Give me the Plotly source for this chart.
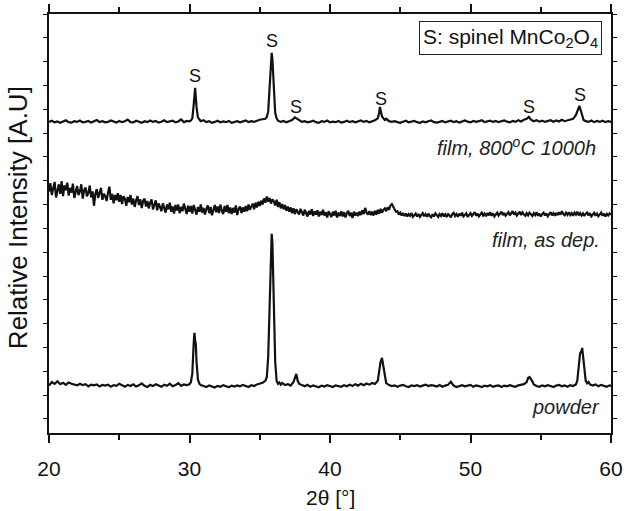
import plotly.graph_objects as go

# ---------------- data ----------------
# film, 800 C 1000h  (offset trace, top)
film800_x = [
    20.0, 20.2, 20.4, 20.6, 20.8, 21.0, 21.2, 21.4, 21.6, 21.8,
    22.0, 22.2, 22.4, 22.6, 22.8, 23.0, 23.2, 23.4, 23.6, 23.8,
    24.0, 24.2, 24.4, 24.6, 24.8, 25.0, 25.2, 25.4, 25.6, 25.8,
    26.0, 26.2, 26.4, 26.6, 26.8, 27.0, 27.2, 27.4, 27.6, 27.8,
    28.0, 28.2, 28.4, 28.6, 28.8, 29.0, 29.2, 29.4, 29.6, 29.8,
    30.0, 30.1, 30.2, 30.3, 30.4, 30.5, 30.6, 30.7, 30.8, 31.0,
    31.2, 31.4, 31.6, 31.8, 32.0, 32.2, 32.4, 32.6, 32.8, 33.0,
    33.2, 33.4, 33.6, 33.8, 34.0, 34.2, 34.4, 34.6, 34.8, 35.0, 35.2,
    35.4, 35.5, 35.6, 35.7, 35.8, 35.85, 35.9, 36.0, 36.1, 36.2,
    36.3, 36.5, 36.7, 36.9, 37.1, 37.3, 37.5, 37.6, 37.8, 38.0,
    38.2, 38.4, 38.6, 38.8, 39.0, 39.2, 39.4, 39.6, 39.8, 40.0,
    40.2, 40.4, 40.6, 40.8, 41.0, 41.2, 41.4, 41.6, 41.8, 42.0,
    42.2, 42.4, 42.6, 42.8, 43.0, 43.2,
    43.4, 43.5, 43.55, 43.6, 43.7, 43.8, 43.9, 44.0, 44.2, 44.4,
    44.6, 44.8, 45.0, 45.2, 45.4, 45.6, 45.8, 46.0, 46.2, 46.4,
    46.6, 46.8, 47.0, 47.2, 47.4, 47.6, 47.8, 48.0, 48.2, 48.4,
    48.6, 48.8, 49.0, 49.2, 49.4, 49.6, 49.8, 50.0, 50.2, 50.4,
    50.6, 50.8, 51.0, 51.2, 51.4, 51.6, 51.8, 52.0, 52.2, 52.4,
    52.6, 52.8, 53.0, 53.2, 53.4, 53.6, 53.8,
    54.0, 54.15, 54.3, 54.5, 54.7, 54.9, 55.1, 55.3, 55.5, 55.7,
    55.9, 56.1, 56.3, 56.5, 56.7, 56.9, 57.1, 57.3, 57.5, 57.65,
    57.75, 57.85, 57.95, 58.05, 58.2, 58.4, 58.6, 58.8, 59.0, 59.2,
    59.4, 59.6, 59.8, 60.0,
]
film800_y = [
    12.47, 12.52, 12.45, 12.49, 12.43, 12.50, 12.54, 12.46, 12.44, 12.50,
    12.47, 12.53, 12.45, 12.47, 12.51, 12.44, 12.48, 12.55, 12.46, 12.50,
    12.45, 12.47, 12.53, 12.48, 12.44, 12.51, 12.46, 12.50, 12.57, 12.46,
    12.45, 12.52, 12.48, 12.43, 12.50, 12.46, 12.53, 12.47, 12.51, 12.44,
    12.48, 12.54, 12.46, 12.50, 12.52, 12.45, 12.49, 12.57, 12.46, 12.51,
    12.49, 12.53, 12.62, 13.20, 13.90, 13.10, 12.65, 12.58, 12.50, 12.54,
    12.46, 12.50, 12.43, 12.47, 12.52, 12.45, 12.49, 12.46, 12.51, 12.43,
    12.47, 12.50, 12.45, 12.49, 12.53, 12.46, 12.50, 12.47, 12.52, 12.56, 12.58,
    12.60, 12.68, 12.90, 13.90, 15.20, 15.37, 15.10, 13.80, 12.85, 12.62,
    12.52, 12.47, 12.51, 12.45, 12.50, 12.55, 12.66, 12.62, 12.52, 12.47,
    12.50, 12.45, 12.48, 12.52, 12.46, 12.43, 12.50, 12.47, 12.53, 12.45,
    12.48, 12.46, 12.51, 12.44, 12.47, 12.52, 12.46, 12.50, 12.45, 12.48,
    12.53, 12.47, 12.51, 12.45, 12.48, 12.54,
    12.62, 12.85, 13.10, 12.95, 12.70, 12.62, 12.55, 12.60, 12.50, 12.47,
    12.50, 12.46, 12.43, 12.48, 12.52, 12.45, 12.47, 12.51, 12.46, 12.43,
    12.49, 12.45, 12.50, 12.53, 12.46, 12.44, 12.47, 12.51, 12.45, 12.48,
    12.52, 12.46, 12.50, 12.44, 12.47, 12.53, 12.48, 12.45, 12.51, 12.47,
    12.50, 12.54, 12.46, 12.48, 12.52, 12.47, 12.51, 12.46, 12.50, 12.53,
    12.48, 12.45, 12.51, 12.47, 12.54, 12.49, 12.56,
    12.60, 12.68, 12.56, 12.50, 12.54, 12.48, 12.52, 12.47, 12.51, 12.54,
    12.48, 12.53, 12.49, 12.56, 12.50, 12.54, 12.56, 12.60, 12.75, 13.05,
    13.14, 12.95, 12.70, 12.55, 12.50, 12.47, 12.53, 12.46, 12.51, 12.47,
    12.52, 12.46, 12.50, 12.47,
]

# film, as deposited (middle trace), scan 20..60 deg, step 0.1 deg
asdep_start = 20.0
asdep_step = 0.1
asdep_y = [
    9.55, 9.90, 9.40, 9.75, 9.95, 9.30, 9.65, 9.85, 9.45, 9.98,
    9.35, 9.80, 9.60, 9.92, 9.38, 9.70, 9.50, 9.88, 9.28, 9.62,
    9.78, 9.40, 9.55, 9.85, 9.25, 9.60, 9.72, 9.35, 9.50, 9.80,
    9.30, 9.55, 8.95, 9.45, 9.65, 9.28, 9.50, 9.70, 9.20, 9.45,
    9.35, 9.15, 9.50, 9.75, 9.20, 9.45, 9.05, 9.40, 9.18, 9.48,
    9.12, 9.40, 9.02, 9.35, 9.25, 8.95, 9.32, 9.10, 9.40, 9.00,
    9.25, 8.90, 9.18, 9.35, 8.98, 9.22, 8.85, 9.15, 9.25, 8.92,
    9.15, 8.84, 9.08, 9.22, 8.80, 9.02, 9.18, 8.76, 9.05, 8.90,
    8.72, 9.05, 8.88, 8.66, 9.00, 8.80, 9.08, 8.70, 8.92, 8.62,
    8.98, 8.75, 9.00, 8.64, 8.90, 8.72, 9.04, 8.78, 8.60, 8.95,
    8.70, 8.94, 8.62, 8.98, 8.76, 8.58, 8.90, 8.70, 9.00, 8.66,
    8.86, 8.58, 8.82, 8.96, 8.64, 8.90, 8.55, 8.84, 8.98, 8.68,
    8.92, 8.64, 9.00, 8.74, 8.60, 8.94, 8.70, 8.98, 8.64, 8.88,
    8.60, 8.86, 8.66, 8.96, 8.56, 8.82, 8.92, 8.64, 8.88, 8.70,
    8.94, 8.72, 9.00, 8.78, 8.96, 9.04, 8.80, 9.08, 8.88, 9.12,
    8.94, 9.16, 9.00, 9.26, 9.08, 9.34, 9.12, 9.28, 9.04, 9.22,
    9.14, 8.96, 9.20, 8.90, 9.10, 8.84, 9.02, 8.80, 8.98, 8.74,
    8.92, 8.70, 8.88, 8.64, 8.84, 8.60, 8.80, 8.68, 8.58, 8.82,
    8.64, 8.54, 8.78, 8.62, 8.50, 8.74, 8.58, 8.80, 8.52, 8.72,
    8.58, 8.76, 8.50, 8.70, 8.56, 8.78, 8.54, 8.68, 8.46, 8.72,
    8.56, 8.48, 8.70, 8.54, 8.74, 8.46, 8.66, 8.52, 8.72, 8.50,
    8.68, 8.46, 8.64, 8.74, 8.52, 8.66, 8.44, 8.70, 8.54, 8.66,
    8.52, 8.70, 8.56, 8.76, 8.60, 8.86, 8.66, 8.58, 8.72, 8.56,
    8.70, 8.54, 8.74, 8.58, 8.78, 8.62, 8.82, 8.66, 8.78, 8.84,
    8.72, 8.88, 8.78, 8.96, 9.02, 8.88, 8.80, 8.70, 8.72, 8.58,
    8.66, 8.54, 8.64, 8.52, 8.62, 8.50, 8.60, 8.53, 8.64, 8.48,
    8.58, 8.62, 8.50, 8.60, 8.48, 8.59, 8.64, 8.51, 8.60, 8.49,
    8.62, 8.52, 8.47, 8.59, 8.50, 8.63, 8.53, 8.48, 8.60, 8.52,
    8.64, 8.50, 8.59, 8.48, 8.62, 8.53, 8.46, 8.60, 8.65, 8.52,
    8.60, 8.49, 8.62, 8.53, 8.66, 8.50, 8.59, 8.63, 8.48, 8.58,
    8.64, 8.52, 8.61, 8.68, 8.53, 8.62, 8.50, 8.60, 8.66, 8.54,
    8.62, 8.51, 8.64, 8.55, 8.68, 8.53, 8.63, 8.50, 8.61, 8.66,
    8.54, 8.64, 8.70, 8.56, 8.65, 8.53, 8.62, 8.68, 8.55, 8.64,
    8.72, 8.58, 8.66, 8.54, 8.64, 8.70, 8.56, 8.67, 8.58, 8.53,
    8.64, 8.55, 8.66, 8.58, 8.52, 8.64, 8.56, 8.68, 8.53, 8.62,
    8.50, 8.60, 8.66, 8.54, 8.63, 8.51, 8.61, 8.68, 8.55, 8.64,
    8.53, 8.65, 8.56, 8.68, 8.58, 8.72, 8.60, 8.55, 8.66, 8.57,
    8.68, 8.56, 8.64, 8.53, 8.66, 8.58, 8.70, 8.55, 8.64, 8.54,
    8.63, 8.52, 8.62, 8.67, 8.54, 8.64, 8.50, 8.60, 8.65, 8.53,
    8.62, 8.51, 8.60, 8.66, 8.53, 8.62, 8.50, 8.61, 8.54, 8.63,
    8.57,
]

# powder (bottom trace)
powder_x = [
    20.0, 20.2, 20.4, 20.6, 20.8, 21.0, 21.2, 21.4, 21.6, 21.8,
    22.0, 22.2, 22.4, 22.6, 22.8, 23.0, 23.2, 23.4, 23.6, 23.8,
    24.0, 24.2, 24.4, 24.6, 24.8, 25.0, 25.2, 25.4, 25.6, 25.8,
    26.0, 26.2, 26.4, 26.6, 26.8, 27.0, 27.2, 27.4, 27.6, 27.8,
    28.0, 28.2, 28.4, 28.6, 28.8, 29.0, 29.2, 29.4, 29.6, 29.8,
    30.0, 30.1, 30.2, 30.3, 30.35, 30.4, 30.45, 30.5, 30.6, 30.7, 30.8, 31.0,
    31.2, 31.4, 31.6, 31.8, 32.0, 32.2, 32.4, 32.6, 32.8, 33.0,
    33.2, 33.4, 33.6, 33.8, 34.0, 34.2, 34.4, 34.6, 34.8, 35.0, 35.2,
    35.4, 35.5, 35.6, 35.7, 35.8, 35.85, 35.9, 36.0, 36.1, 36.2,
    36.3, 36.4, 36.5, 36.6, 36.8, 37.0, 37.2, 37.4, 37.5, 37.6,
    37.7, 37.8, 38.0,
    38.2, 38.4, 38.6, 38.8, 39.0, 39.2, 39.4, 39.6, 39.8, 40.0,
    40.2, 40.4, 40.6, 40.8, 41.0, 41.2, 41.4, 41.6, 41.8, 42.0,
    42.2, 42.4, 42.6, 42.8, 43.0, 43.2,
    43.4, 43.5, 43.6, 43.7, 43.8, 43.9, 44.0, 44.2, 44.4,
    44.6, 44.8, 45.0, 45.2, 45.4, 45.6, 45.8, 46.0, 46.2, 46.4,
    46.6, 46.8, 47.0, 47.2, 47.4, 47.6, 47.8, 48.0, 48.2, 48.4,
    48.6, 48.8, 49.0, 49.2, 49.4, 49.6, 49.8, 50.0, 50.2, 50.4,
    50.6, 50.8, 51.0, 51.2, 51.4, 51.6, 51.8, 52.0, 52.2, 52.4,
    52.6, 52.8, 53.0, 53.2, 53.4, 53.6, 53.8,
    54.0, 54.1, 54.2, 54.3, 54.4, 54.5, 54.7, 54.9, 55.1, 55.3,
    55.5, 55.7, 55.9, 56.1, 56.3, 56.5, 56.7, 56.9, 57.1, 57.3,
    57.5, 57.6, 57.7, 57.8, 57.9, 57.95, 58.0, 58.1, 58.2, 58.3,
    58.4, 58.5, 58.7, 58.9, 59.1, 59.3, 59.5, 59.7, 59.9, 60.0,
]
powder_y = [
    1.40, 1.55, 1.47, 1.58, 1.46, 1.52, 1.43, 1.53, 1.48, 1.45,
    1.41, 1.48, 1.42, 1.46, 1.37, 1.44, 1.41, 1.45, 1.36, 1.43,
    1.40, 1.44, 1.35, 1.42, 1.39, 1.48, 1.40, 1.35, 1.43, 1.38,
    1.45, 1.36, 1.41, 1.49, 1.39, 1.34, 1.43, 1.38, 1.46, 1.40,
    1.35, 1.44, 1.39, 1.48, 1.37, 1.42, 1.50, 1.39, 1.45, 1.42,
    1.45, 1.55, 1.90, 3.20, 3.61, 3.30, 3.15, 2.40, 1.65, 1.48, 1.42, 1.38,
    1.34, 1.41, 1.36, 1.32, 1.39, 1.35, 1.42, 1.37, 1.33, 1.40,
    1.36, 1.41, 1.37, 1.43, 1.38, 1.34, 1.42, 1.38, 1.45, 1.48, 1.52,
    1.60, 1.75, 2.60, 5.20, 7.50, 7.77, 7.40, 5.00, 2.40, 1.60,
    1.47, 1.53, 1.44, 1.51, 1.42, 1.46, 1.40, 1.55, 1.75, 1.89,
    1.60, 1.48, 1.42,
    1.37, 1.43, 1.35, 1.41, 1.37, 1.33, 1.40, 1.36, 1.42, 1.37,
    1.34, 1.41, 1.38, 1.35, 1.42, 1.37, 1.44, 1.38, 1.46, 1.40,
    1.48, 1.42, 1.49, 1.44, 1.51, 1.47,
    1.60, 1.95, 2.40, 2.56, 2.20, 1.70, 1.50, 1.42, 1.38,
    1.41, 1.35, 1.40, 1.43, 1.37, 1.34, 1.41, 1.38, 1.42, 1.36,
    1.40, 1.44, 1.38, 1.42, 1.40, 1.36, 1.42, 1.35, 1.40, 1.43,
    1.56, 1.40, 1.34, 1.39, 1.42, 1.37, 1.40, 1.43, 1.35, 1.41,
    1.38, 1.34, 1.40, 1.37, 1.42, 1.35, 1.39, 1.41, 1.34, 1.40,
    1.37, 1.42, 1.38, 1.35, 1.41, 1.43, 1.46,
    1.55, 1.72, 1.76, 1.68, 1.58, 1.45, 1.38, 1.35, 1.41, 1.37,
    1.42, 1.38, 1.34, 1.40, 1.43, 1.37, 1.41, 1.35, 1.42, 1.38,
    1.45, 1.60, 2.20, 2.75, 2.85, 2.98, 2.70, 2.00, 1.60, 1.50,
    1.55, 1.45, 1.40, 1.45, 1.37, 1.43, 1.39, 1.35, 1.41, 1.38,
]

# spinel reflection markers "S" above the annealed-film pattern
s_marker_x = [30.4, 35.87, 37.6, 43.6, 54.15, 57.8]
s_marker_y = [14.40, 15.85, 13.08, 13.43, 13.08, 13.60]

# curve labels
curve_labels = ["film, 800<sup>o</sup>C 1000h", "film, as dep.", "powder"]
curve_label_x = [59.05, 59.33, 59.33]
curve_label_y = [11.42, 7.51, 0.50]

x_ticks = [20, 30, 40, 50, 60]
legend_text = "S: spinel MnCo<sub>2</sub>O<sub>4</sub>"
x_title = "2θ [°]"
y_title = "Relative Intensity [A.U]"

assert len(film800_x) == len(film800_y), (len(film800_x), len(film800_y))
assert len(powder_x) == len(powder_y), (len(powder_x), len(powder_y))
asdep_x = [round(asdep_start + asdep_step * i, 2) for i in range(len(asdep_y))]

# ---------------- figure ----------------
FONT = "Liberation Sans, Arial, Helvetica, sans-serif"
INK = "#111111"
LINE = dict(color=INK, width=2.2)

fig = go.Figure()
for xs, ys, name in [(film800_x, film800_y, "film 800C"),
                     (asdep_x, asdep_y, "film as dep."),
                     (powder_x, powder_y, "powder")]:
    fig.add_trace(go.Scatter(x=xs, y=ys, mode="lines", line=LINE,
                             name=name, showlegend=False, hoverinfo="skip"))

annotations = []
for sx, sy in zip(s_marker_x, s_marker_y):
    annotations.append(dict(x=sx, y=sy, xref="x", yref="y", text="S",
                            showarrow=False, xanchor="center", yanchor="middle",
                            font=dict(family=FONT, size=18, color=INK)))
for t, lx, ly in zip(curve_labels, curve_label_x, curve_label_y):
    annotations.append(dict(x=lx, y=ly, xref="x", yref="y", text=t,
                            showarrow=False, xanchor="right", yanchor="middle",
                            font=dict(family=FONT, size=20, color="#222222", style="italic")))
annotations.append(dict(x=0.984, y=0.983, xref="paper", yref="paper",
                        text=legend_text, showarrow=False,
                        xanchor="right", yanchor="top",
                        bordercolor="#222222", borderwidth=1, borderpad=3,
                        bgcolor="white",
                        font=dict(family=FONT, size=21, color=INK)))
# axis titles
annotations.append(dict(x=0.5, y=-0.153, xref="paper", yref="paper", text=x_title,
                        showarrow=False, xanchor="center", yanchor="middle",
                        font=dict(family=FONT, size=21, color=INK)))
annotations.append(dict(x=-0.055, y=0.513, xref="paper", yref="paper", text=y_title,
                        showarrow=False, xanchor="center", yanchor="middle", textangle=-90,
                        font=dict(family=FONT, size=26, color=INK)))

fig.update_layout(
    width=628, height=511,
    margin=dict(l=49, r=17, t=14, b=78, autoexpand=False),
    paper_bgcolor="white", plot_bgcolor="white",
    font=dict(family=FONT, size=20, color=INK),
    annotations=annotations,
)
fig.update_xaxes(
    range=[20, 60], tickvals=x_ticks, ticktext=[str(v) for v in x_ticks],
    ticks="outside", ticklen=8, tickwidth=1.5, tickcolor=INK,
    minor=dict(dtick=5, ticks="outside", ticklen=5, tickwidth=1.5, tickcolor=INK),
    showline=True, linecolor=INK, linewidth=1.5, mirror="ticks",
    showgrid=False, zeroline=False, automargin=False,
    tickfont=dict(family=FONT, size=21, color=INK),
    ticklabelstandoff=8,
)
fig.update_yaxes(
    range=[-0.59, 17], dtick=1, tick0=0, showticklabels=False,
    ticks="outside", ticklen=4, tickwidth=1.2, tickcolor=INK,
    showline=True, linecolor=INK, linewidth=1.5, mirror="ticks",
    showgrid=False, zeroline=False, automargin=False,
)

# remove the browser's default 8px page margin so the 628x511 figure fills the window
fig.write_html("out.html", config={"displayModeBar": False},
               post_script="document.body.style.margin='0';")
